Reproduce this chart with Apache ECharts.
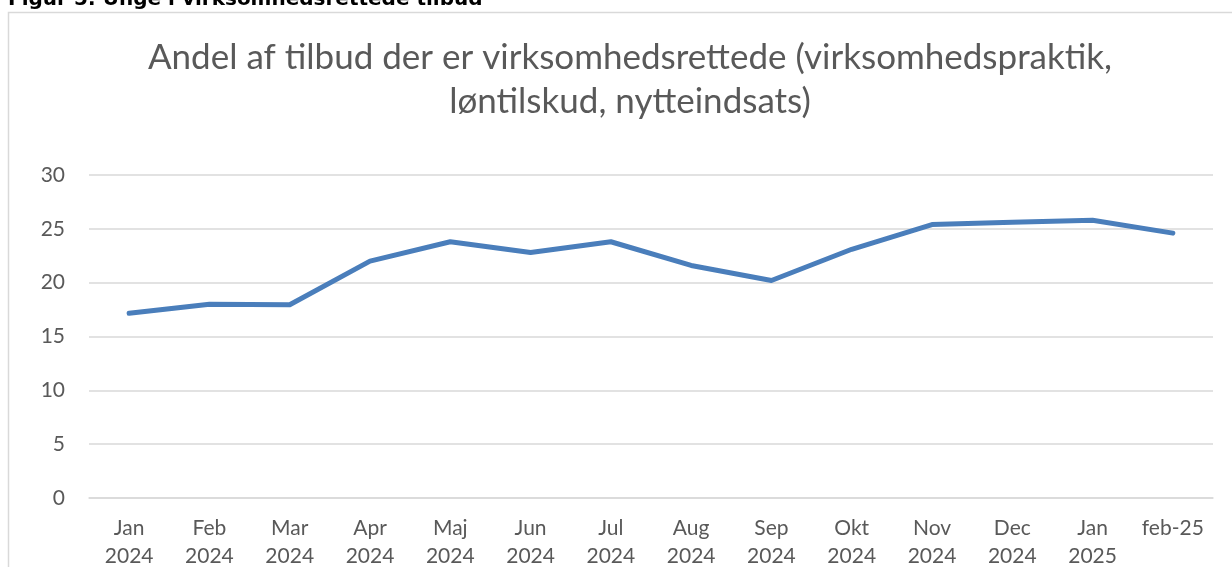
<!DOCTYPE html>
<html>
<head>
<meta charset="utf-8">
<style>
  html, body { margin: 0; padding: 0; background: #fff; }
  #main { width: 1232px; height: 567px; }
</style>
<script src="https://cdn.jsdelivr.net/npm/echarts@6/dist/echarts.min.js"></script>
</head>
<body>
<div id="main"></div>
<script>
// data
var months = ['Jan\n2024', 'Feb\n2024', 'Mar\n2024', 'Apr\n2024', 'Maj\n2024', 'Jun\n2024', 'Jul\n2024',
  'Aug\n2024', 'Sep\n2024', 'Okt\n2024', 'Nov\n2024', 'Dec\n2024', 'Jan\n2025', 'feb-25'];
var andel = [17.15, 18.0, 17.95, 22.0, 23.8, 22.8, 23.8, 21.6, 20.2, 23.1, 25.4, 25.6, 25.8, 24.6];

var font = 'Lato, "Open Sans", sans-serif';
var myChart = echarts.init(document.getElementById('main'));
myChart.setOption({
  animation: false,
  title: {
    text: 'Andel af tilbud der er virksomhedsrettede (virksomhedspraktik,\nløntilskud, nytteindsats)',
    left: 625,
    top: 31,
    textAlign: 'center',
    textStyle: { fontFamily: font, fontSize: 35, fontWeight: 'normal', color: '#595959', lineHeight: 44 }
  },
  graphic: [
    {
      type: 'rect',
      shape: { x: 8.5, y: 12.5, width: 1240, height: 600 },
      style: { fill: 'none', stroke: '#d9d9d9', lineWidth: 1.5 },
      z: -1
    },
    {
      type: 'text',
      left: 8,
      top: -10,
      style: { text: 'Figur 5: Unge i virksomhedsrettede tilbud', font: 'bold 20px "DejaVu Sans", sans-serif', fill: '#000' }
    }
  ],
  grid: { left: 89, right: 19, top: 175, bottom: 69, outerBoundsMode: 'none' },
  xAxis: {
    type: 'category',
    data: months,
    axisLine: { lineStyle: { color: '#d9d9d9', width: 1.5 } },
    axisTick: { show: false },
    axisLabel: { fontFamily: font, fontSize: 21, color: '#595959', lineHeight: 28, margin: 16, interval: 0 }
  },
  yAxis: {
    type: 'value',
    min: 0,
    max: 30,
    interval: 5,
    axisLine: { show: false },
    axisTick: { show: false },
    splitLine: { lineStyle: { color: '#d9d9d9', width: 1.5 } },
    axisLabel: { fontFamily: font, fontSize: 21, color: '#595959', margin: 24 }
  },
  series: [{
    type: 'line',
    data: andel,
    symbol: 'none',
    lineStyle: { color: '#4a7ebb', width: 5, cap: 'round', join: 'round' }
  }]
});
</script>
</body>
</html>
